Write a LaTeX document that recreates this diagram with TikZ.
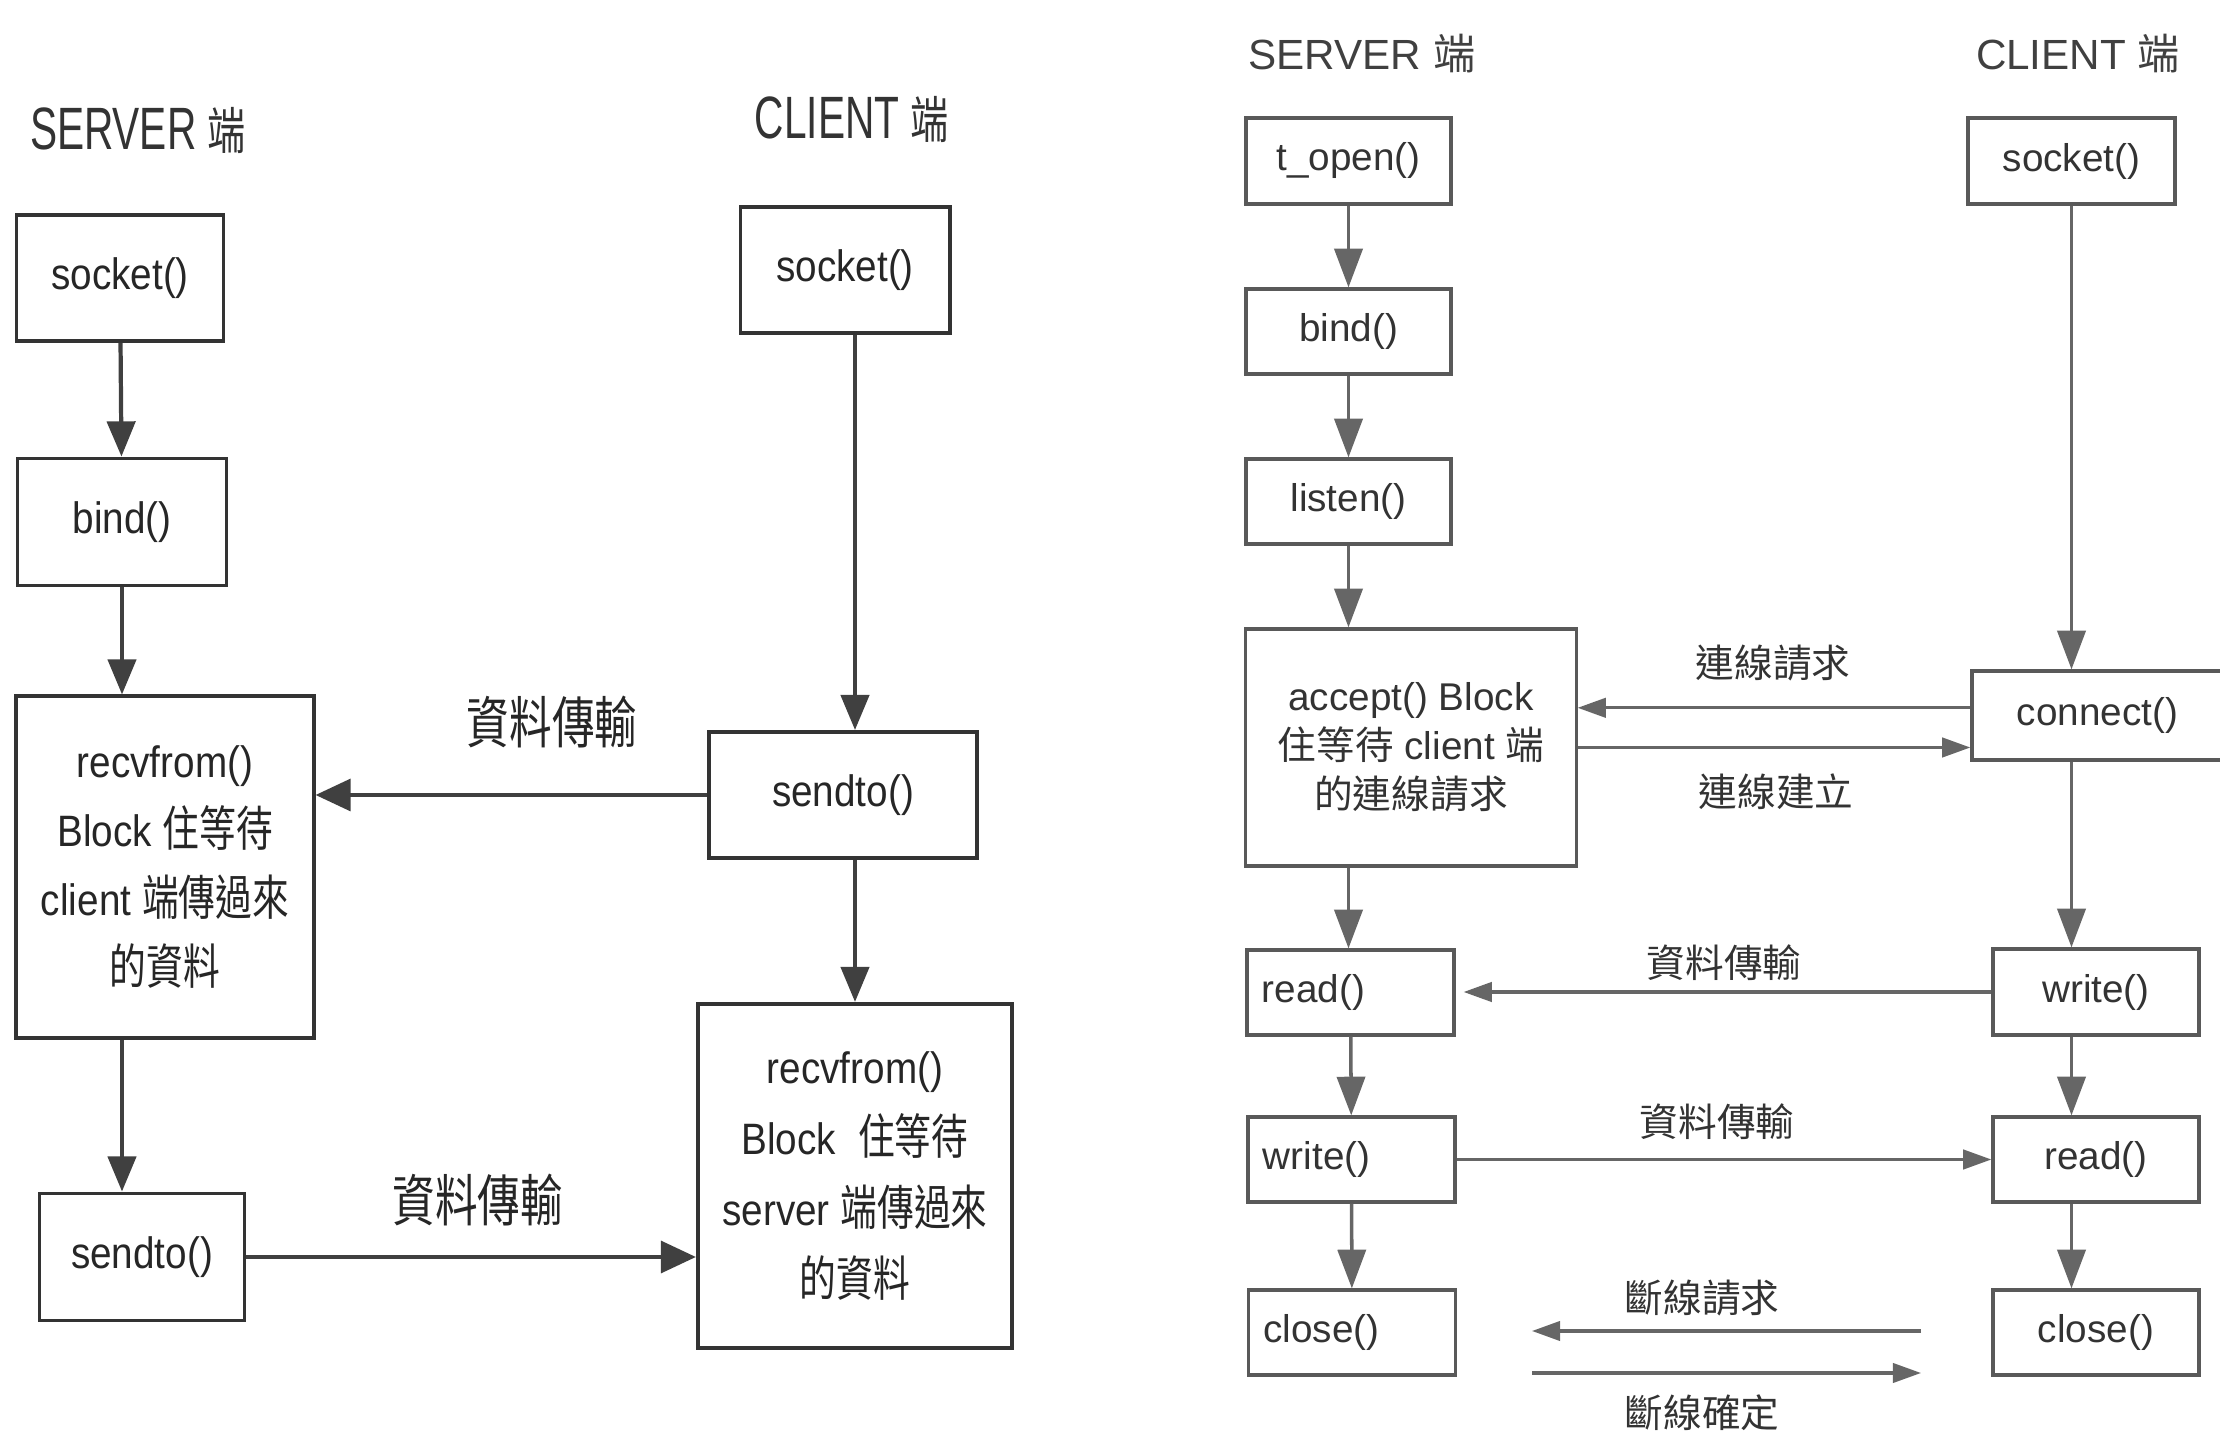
\documentclass[tikz,border=0pt]{standalone}
\usepackage{fontspec}
\setmainfont{Liberation Sans}
\newfontfamily\lfont[FakeStretch=0.88]{Liberation Sans}
\newfontfamily\lhfont[FakeStretch=0.68]{Liberation Sans}
\newfontfamily\lcjk[FakeStretch=0.76,Scale=1.1]{Noto Sans CJK TC}
\newfontfamily\rcjk{Noto Sans CJK TC}
\let\zhfont\rcjk
\newcommand\zh[1]{{\zhfont #1}}
\usetikzlibrary{arrows.meta}

\tikzset{
	lbox/.style={draw=black!80, line width=1.1pt, align=center, text=black!85, inner sep=0pt,
		font=\lfont\fontsize{12.5}{19.6}\selectfont\let\zhfont\lcjk},
	lhead/.style={text=black!80, inner sep=0pt, font=\lhfont\fontsize{17}{17}\selectfont\let\zhfont\lcjk},
	llabel/.style={text=black!85, inner sep=0pt, font=\fontsize{14.5}{14.5}\selectfont\let\zhfont\lcjk},
	larr/.style={draw=black!75, line width=1.2pt, -{Triangle[length=10pt,width=8pt]}},
	lharr/.style={draw=black!75, line width=1.3pt, -{Triangle[length=10pt,width=9pt]}},
	rbox/.style={draw=black!65, line width=0.9pt, align=center, text=black!80, inner sep=0pt,
		font=\fontsize{11}{13.9}\selectfont},
	rleft/.style={rbox, text width=1.77cm, inner xsep=0.15cm, align=left, minimum height=0.85cm},
	rhead/.style={text=black!75, inner sep=0pt, font=\fontsize{12}{12}\selectfont},
	rlabel/.style={text=black!80, inner sep=0pt, font=\fontsize{11}{11}\selectfont},
	rarr/.style={draw=black!60, line width=1pt, -{Triangle[length=11pt,width=8pt]}},
	rharr/.style={draw=black!60, line width=0.9pt, -{Triangle[length=8pt,width=5.5pt]}}
}

\begin{document}
\begin{tikzpicture}[x=0.01cm, y=-0.01cm]
	\useasboundingbox (0,0) rectangle (2220,1437);
	\clip (0,0) rectangle (2220,1437);

	\node[lhead] (usrvhead) at (138,130) {SERVER {\fontsize{13}{13}\selectfont\zh{端}}};
	\node[lhead] (uclthead) at (852,119) {CLIENT {\fontsize{13}{13}\selectfont\zh{端}}};

	\node[lbox, minimum width=2.07cm, minimum height=1.26cm] (usrvsock) at (120,278) {socket()};
	\node[lbox, minimum width=2.09cm, minimum height=1.27cm] (usrvbind) at (122,522) {bind()};
	\node[lbox, minimum width=2.97cm, minimum height=3.41cm] (usrvrecv) at (165,867)
		{recvfrom()\\Block \zh{住等待}\\client \zh{端傳過來}\\\zh{的資料}};
	\node[lbox, minimum width=2.05cm, minimum height=1.27cm] (usrvsend) at (142,1257) {sendto()};

	\node[lbox, minimum width=2.09cm, minimum height=1.26cm] (ucltsock) at (845,270) {socket()};
	\node[lbox, minimum width=2.68cm, minimum height=1.26cm] (ucltsend) at (843,795) {sendto()};
	\node[lbox, minimum width=3.14cm, minimum height=3.44cm, font=\lfont\fontsize{12.5}{20.1}\selectfont\let\zhfont\lcjk] (ucltrecv) at (855,1176)
		{recvfrom()\\Block\enspace\zh{住等待}\\server \zh{端傳過來}\\\zh{的資料}};

	\draw[larr] (usrvsock) -- (usrvbind);
	\draw[larr] (usrvbind) -- (usrvbind |- usrvrecv.north);
	\draw[larr] (usrvrecv.south -| usrvbind) -- (usrvsend.north -| usrvbind);
	\draw[larr] (ucltsock.south -| ucltrecv) -- (ucltsend.north -| ucltrecv);
	\draw[larr] (ucltsend.south -| ucltrecv) -- (ucltrecv);

	\draw[lharr] (ucltsend.west) -- (ucltsend.west -| usrvrecv.east);
	\node[llabel] (udata1) at (552,722) {\zh{資料傳輸}};
	\draw[lharr] (usrvsend.east) -- (usrvsend.east -| ucltrecv.west);
	\node[llabel] (udata2) at (478,1200) {\zh{資料傳輸}};

	\node[rhead] (tsrvhead) at (1362,54) {SERVER \zh{端}};
	\node[rhead] (tclthead) at (2078,54) {CLIENT \zh{端}};

	\node[rbox, minimum width=2.05cm, minimum height=0.86cm] (tsrvopen) at (1348.5,161) {t\_open()};
	\node[rbox, minimum width=2.05cm, minimum height=0.85cm] (tsrvbind) at (1348.5,331.5) {bind()};
	\node[rbox, minimum width=2.05cm, minimum height=0.85cm] (tsrvlisten) at (1348.5,501.5) {listen()};
	\node[rbox, minimum width=3.30cm, minimum height=2.37cm] (tsrvaccept) at (1411,747.5)
		{accept() Block\\\zh{住等待} client \zh{端}\\\zh{的連線請求}};
	\node[rleft] (tsrvread) at (1350.5,992.5) {read()};
	\node[rleft] (tsrvwrite) at (1351.5,1159.5) {write()};
	\node[rleft] (tsrvclose) at (1352,1332.5) {close()};

	\node[rbox, minimum width=2.07cm, minimum height=0.86cm] (tcltsock) at (2071.5,161) {socket()};
	\node[rbox, text width=2.0cm, inner xsep=0.45cm, align=left, minimum height=0.89cm] (tcltconn) at (2117,715.5) {connect()};
	\node[rbox, minimum width=2.06cm, minimum height=0.86cm] (tcltwrite) at (2096,992) {write()};
	\node[rbox, minimum width=2.06cm, minimum height=0.85cm] (tcltread) at (2096,1159.5) {read()};
	\node[rbox, minimum width=2.06cm, minimum height=0.85cm] (tcltclose) at (2096,1332.5) {close()};

	\draw[rarr] (tsrvopen) -- (tsrvbind);
	\draw[rarr] (tsrvbind) -- (tsrvlisten);
	\draw[rarr] (tsrvlisten) -- (tsrvlisten |- tsrvaccept.north);
	\draw[rarr] (tsrvaccept.south -| tsrvopen) -- (tsrvread.north -| tsrvopen);
	\draw[rarr] (tsrvread) -- (tsrvwrite);
	\draw[rarr] (tsrvwrite) -- (tsrvclose);
	\draw[rarr] (tcltsock) -- (tcltsock |- tcltconn.north);
	\draw[rarr] (tcltconn.south -| tcltsock) -- (tcltwrite.north -| tcltsock);
	\draw[rarr] (tcltwrite.south -| tcltsock) -- (tcltread.north -| tcltsock);
	\draw[rarr] (tcltread.south -| tcltsock) -- (tcltclose.north -| tcltsock);

	\draw[rharr] (tcltconn.177) -- (tcltconn.177 -| tsrvaccept.east);
	\node[rlabel] (connreq) at (1773,663) {\zh{連線請求}};
	\draw[rharr] (tsrvaccept.east) -- (tsrvaccept.east -| tcltconn.west);
	\node[rlabel] (connest) at (1776,792) {\zh{連線建立}};

	\draw[rharr, shorten >=0.08cm] (tcltwrite.west) -- (tcltwrite.west -| tsrvread.east);
	\node[rlabel] (tdata1) at (1724,963) {\zh{資料傳輸}};
	\draw[rharr] (tsrvwrite.east) -- (tsrvwrite.east -| tcltread.west);
	\node[rlabel] (tdata2) at (1717,1122) {\zh{資料傳輸}};

	\coordinate (discreqR) at (1921,1331);
	\coordinate (discreqL) at (1532,1331);
	\coordinate (discackL) at (1532,1373);
	\coordinate (discackR) at (1921,1373);
	\draw[rharr] (discreqR) -- (discreqL);
	\node[rlabel] (discreq) at (1702,1298) {\zh{斷線請求}};
	\draw[rharr] (discackL) -- (discackR);
	\node[rlabel] (discack) at (1702,1413) {\zh{斷線確定}};
\end{tikzpicture}
\end{document}
